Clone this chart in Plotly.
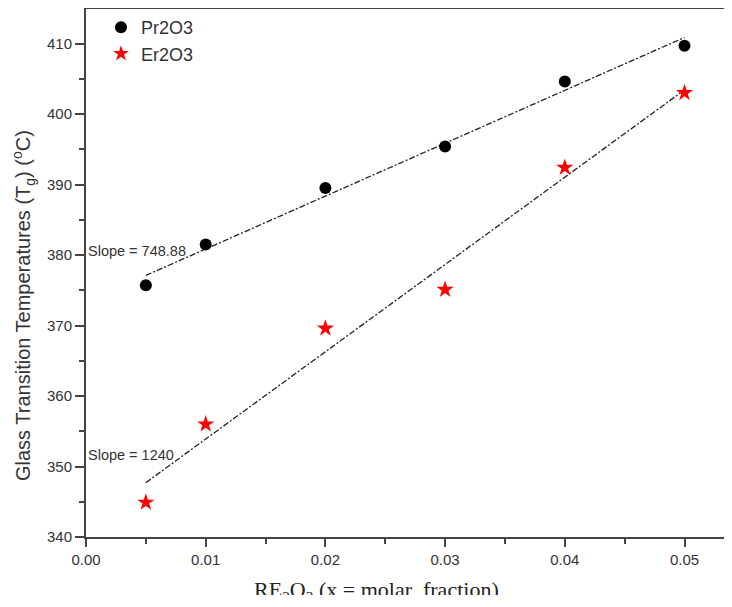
import numpy as np
import plotly.graph_objects as go

x_vals = [0.005, 0.01, 0.02, 0.03, 0.04, 0.05]
pr2o3 = [375.7, 381.5, 389.5, 395.4, 404.6, 409.7]
er2o3 = [344.9, 356.0, 369.6, 375.1, 392.4, 403.0]
x_ticks = [0.00, 0.01, 0.02, 0.03, 0.04, 0.05]
y_ticks = [340, 350, 360, 370, 380, 390, 400, 410]

# the page body has an 8px margin, so the figure is sized to fit the window
W, H = 716, 587
L, R, T, B = 78, 0, 1, 58
PW, PH = W - L - R, H - T - B

fig = go.Figure()

xs = np.array(x_vals)
for ys in (pr2o3, er2o3):
    m, c = np.polyfit(xs, np.array(ys), 1)
    fx = np.array([xs.min(), xs.max()])
    fig.add_trace(go.Scatter(x=fx, y=m * fx + c, mode="lines", showlegend=False,
                             line=dict(color="#222", width=1.3, dash="6px,2px,2px,2px"),
                             hoverinfo="skip"))

fig.add_trace(go.Scatter(x=x_vals, y=pr2o3, mode="markers", name="Pr2O3",
                         marker=dict(symbol="circle", size=12, color="black")))
fig.add_trace(go.Scatter(x=x_vals, y=er2o3, mode="markers", name="Er2O3",
                         marker=dict(symbol="star", size=13, color="#ff0000")))

sans = "Liberation Sans, Arial, sans-serif"
axis_font = dict(family=sans, size=15, color="#333")

fig.update_layout(
    template="none",
    width=W, height=H,
    margin=dict(l=L, r=R, t=T, b=B),
    paper_bgcolor="white", plot_bgcolor="white",
    legend=dict(x=0.0235, y=1.0, xanchor="left", yanchor="top",
                font=dict(family=sans, size=18, color="#333"),
                bgcolor="rgba(0,0,0,0)", itemsizing="constant", tracegroupgap=0),
    xaxis=dict(range=[0, 0.0533], tickvals=x_ticks,
               ticktext=[f"{v:.2f}" for v in x_ticks],
               showgrid=False, zeroline=False, showline=True, mirror=True,
               linecolor="#444", linewidth=2, ticks="outside", ticklen=8,
               tickwidth=1.5, tickcolor="#444", tickfont=axis_font,
               minor=dict(ticks="outside", ticklen=5, dtick=0.005, tickcolor="#444", tickwidth=1.5,
                          showgrid=False)),
    yaxis=dict(range=[340, 414.9], tickvals=y_ticks,
               showgrid=False, zeroline=False, showline=True, mirror=False,
               linecolor="#444", linewidth=2, ticks="outside", ticklen=9,
               tickwidth=1.5, tickcolor="#444", tickfont=axis_font,
               minor=dict(ticks="outside", ticklen=5, dtick=5, tickcolor="#444", tickwidth=1.5,
                          showgrid=False)),
    shapes=[
        # mask the plot-area right edge: the reference's frame continues past the window
        dict(type="rect", xref="paper", yref="paper", x0=0.994, x1=1.03, y0=0.0025, y1=0.996,
             fillcolor="white", line=dict(width=0), layer="above"),
    ],
    annotations=[
        dict(x=0.0, y=380.6, xref="x", yref="y", text="Slope = 748.88", showarrow=False,
             xanchor="left", yanchor="middle",
             font=dict(family=sans, size=14.5, color="#333")),
        dict(x=0.0, y=351.7, xref="x", yref="y", text="Slope = 1240", showarrow=False,
             xanchor="left", yanchor="middle",
             font=dict(family=sans, size=14.5, color="#333")),
        dict(x=(368 - L) / PW, y=-(583 - (H - B)) / PH, xref="paper", yref="paper",
             text="RE<sub>2</sub>O<sub>3</sub> (x = molar  fraction)", showarrow=False,
             xanchor="center", yanchor="middle",
             font=dict(family="Liberation Serif, Times New Roman, serif", size=22, color="#222")),
        dict(x=-(L - 15) / PW, y=((H - B) - 298) / PH, xref="paper", yref="paper",
             text="Glass Transition Temperatures (T<sub>g</sub>) (<sup>o</sup>C)", showarrow=False,
             textangle=-90, xanchor="center", yanchor="middle",
             font=dict(family=sans, size=20, color="#333")),
    ],
)

fig.write_html("out.html")
